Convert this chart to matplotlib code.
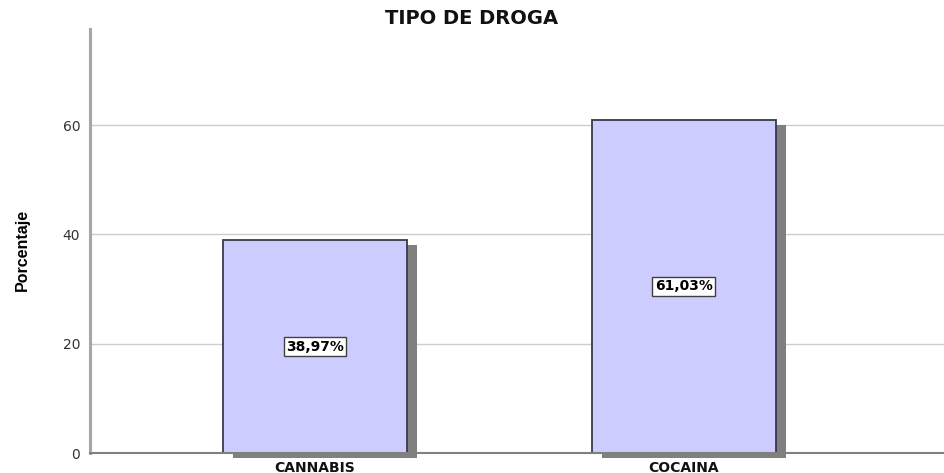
import matplotlib
matplotlib.use('Agg')
import matplotlib.pyplot as plt
from matplotlib import font_manager
from matplotlib.transforms import ScaledTranslation

# datos
categorias = ['CANNABIS', 'COCAINA']
porcentajes = [38.97, 61.03]
etiquetas = ['38,97%', '61,03%']
yticks = [0, 20, 40, 60]

nombres = {f.name for f in font_manager.fontManager.ttflist}
fuente_y = 'Liberation Sans Narrow' if 'Liberation Sans Narrow' in nombres else 'Liberation Sans'

fig = plt.figure(figsize=(9.44, 4.73), dpi=100)
ax = fig.add_axes([90 / 944, 1 - 453 / 473, 854 / 944, 424 / 473])

x = list(range(len(categorias)))

# sombra desplazada
sombra = ax.transData + ScaledTranslation(10 / 100, -5 / 100, fig.dpi_scale_trans)
ax.bar(x, porcentajes, width=0.5, color='#808080', transform=sombra,
       zorder=2, clip_on=False)
ax.bar(x, porcentajes, width=0.5, color='#CCCCFF', edgecolor='#3a3a4a',
       linewidth=1.3, zorder=3)

for xi, v, t in zip(x, porcentajes, etiquetas):
    ax.text(xi, v / 2, t, ha='center', va='center', fontsize=10,
            fontweight='bold', family='DejaVu Sans', zorder=4,
            bbox=dict(boxstyle='square,pad=0.18', fc='white', ec='#404040', lw=1))

ax.set_xlim(-0.61, 1.705)
ax.set_ylim(0, 77.6)
ax.set_yticks(yticks)
ax.set_xticks(x)
ax.set_xticklabels(categorias, fontsize=10, fontweight='bold', family='DejaVu Sans')
ax.tick_params(axis='x', length=0, pad=5.5, colors='#111111')
ax.tick_params(axis='y', length=0, pad=7, labelsize=10, colors='#333333')
ax.yaxis.grid(True, color='#cccccc', linewidth=1)
ax.set_axisbelow(True)

for s in ['top', 'right']:
    ax.spines[s].set_visible(False)
ax.spines['left'].set_color('#a6a6a6')
ax.spines['left'].set_linewidth(2.2)
ax.spines['bottom'].set_color('#808080')
ax.spines['bottom'].set_linewidth(1.5)
ax.spines['bottom'].set_zorder(5)

ax.set_ylabel('Porcentaje', family=fuente_y, fontsize=11.5, fontweight='bold')
ax.yaxis.set_label_coords(-0.07, 0.479)

fig.text(472 / 944, 1 - 18 / 473, 'TIPO DE DROGA', ha='center', va='center',
         fontsize=14, fontweight='bold', family='DejaVu Sans', color='#111111')

fig.savefig('out.png', dpi=100)
